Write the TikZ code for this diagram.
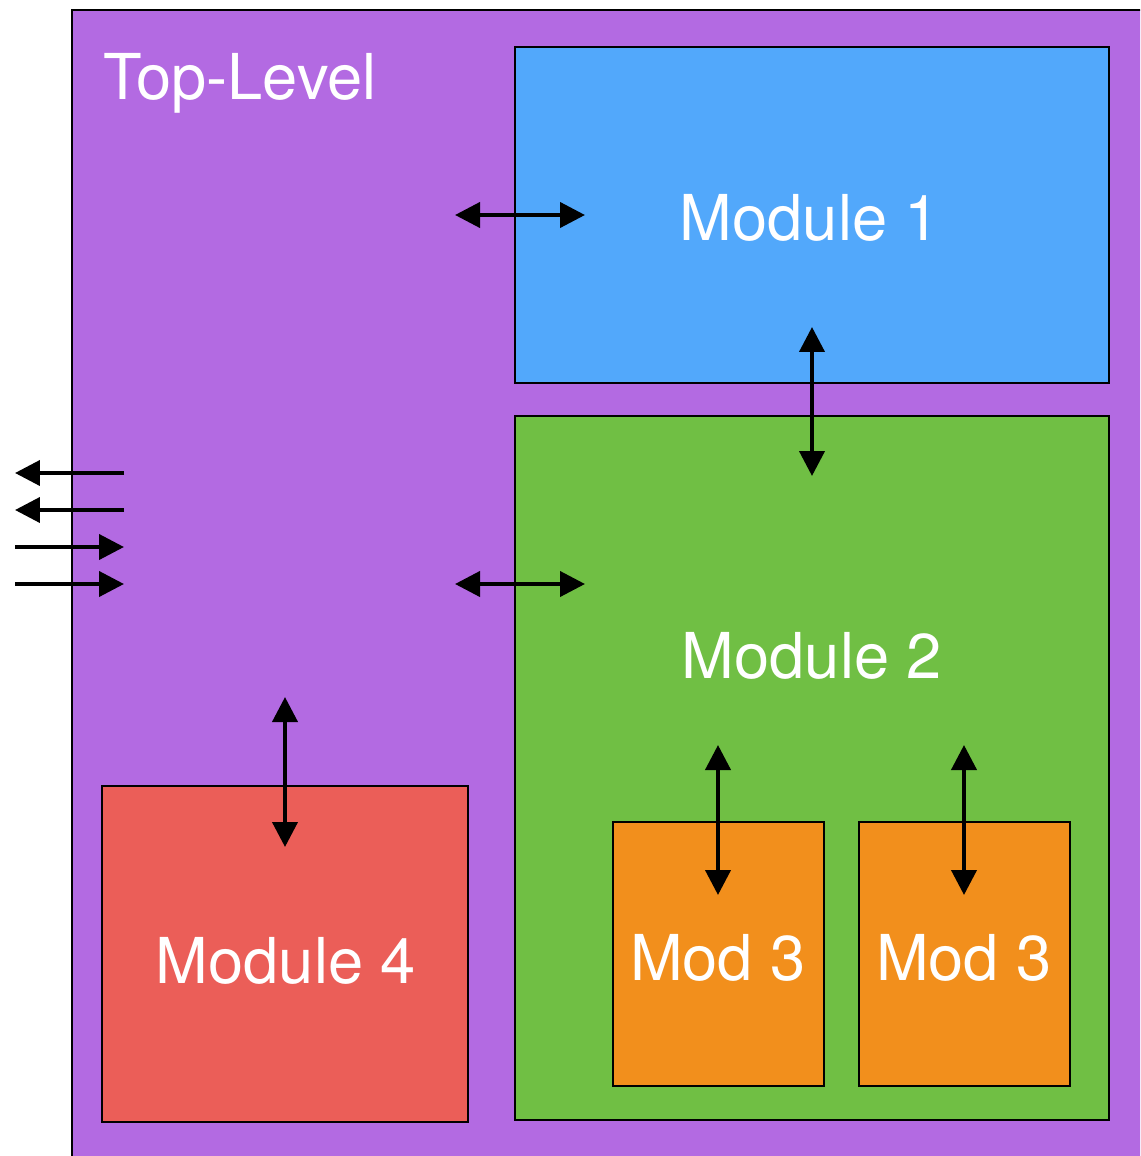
\documentclass[tikz,border=0pt]{standalone}
\usepackage{fontspec}
\setmainfont{TeX Gyre Heros}
\usetikzlibrary{arrows.meta}

\definecolor{toppurple}{HTML}{B36AE2}
\definecolor{modblue}{HTML}{52A8FB}
\definecolor{modgreen}{HTML}{70BF44}
\definecolor{modred}{HTML}{EB5E58}
\definecolor{modorange}{HTML}{F28F1C}

\tikzset{
    modbox/.style={draw=black, line width=1.1pt},
    modlabel/.style={text=white, font=\fontsize{36}{40}\selectfont, inner sep=0pt},
    link/.style={line width=2.3pt, {Triangle[length=0.5cm,width=0.5cm]}-{Triangle[length=0.5cm,width=0.5cm]}},
    outlink/.style={line width=2.3pt, -{Triangle[length=0.5cm,width=0.5cm]}}
}

\begin{document}
\begin{tikzpicture}[x=0.02cm, y=-0.02cm] % one unit is one pixel of the reference
    % Page size
    \useasboundingbox (0,0) rectangle (1140,1156);
    \clip (0,0) rectangle (1140,1156);

    % Top-level block, cut off at the right and bottom
    \draw[modbox, fill=toppurple] (72,10) rectangle (1160,1180);
    \node[modlabel, anchor=base west] (top) at (103,99) {Top-Level};

    % Module boxes
    \draw[modbox, fill=modblue] (515,47) rectangle (1109,383);
    \draw[modbox, fill=modgreen] (515,416) rectangle (1109,1120);
    \draw[modbox, fill=modred] (102,786) rectangle (468,1122);
    \draw[modbox, fill=modorange] (613,822) rectangle (824,1086);
    \draw[modbox, fill=modorange] (859,822) rectangle (1070,1086);

    % Module labels
    \node[modlabel, anchor=base] (mone) at (810,240) {Module 1};
    \node[modlabel, anchor=base] (mtwo) at (812,678) {Module 2};
    \node[modlabel, anchor=base] (mfour) at (286,983) {Module 4};
    \node[modlabel, anchor=base] (mthreea) at (718,980) {Mod 3};
    \node[modlabel, anchor=base] (mthreeb) at (964,980) {Mod 3};

    % Arrow end points
    \coordinate (topA) at (455,215);   \coordinate (oneA) at (585,215);
    \coordinate (topB) at (455,584);   \coordinate (twoB) at (585,584);
    \coordinate (oneC) at (812,327);   \coordinate (twoC) at (812,476);
    \coordinate (topD) at (285,697);   \coordinate (fourD) at (285,847);
    \coordinate (twoE) at (718,745);   \coordinate (threeE) at (718,895);
    \coordinate (twoF) at (964,745);   \coordinate (threeF) at (964,895);

    % Links between modules
    \draw[link] (topA) -- (oneA);
    \draw[link] (topB) -- (twoB);
    \draw[link] (oneC) -- (twoC);
    \draw[link] (topD) -- (fourD);
    \draw[link] (twoE) -- (threeE);
    \draw[link] (twoF) -- (threeF);

    % Ports of the top level
    \foreach \y/\name in {473/outa, 510/outb} {
        \coordinate (\name in) at (124,\y);
        \coordinate (\name ex) at (15,\y);
        \draw[outlink] (\name in) -- (\name ex);
    }
    \foreach \y/\name in {547/ina, 584/inb} {
        \coordinate (\name ex) at (15,\y);
        \coordinate (\name in) at (124,\y);
        \draw[outlink] (\name ex) -- (\name in);
    }
\end{tikzpicture}
\end{document}
